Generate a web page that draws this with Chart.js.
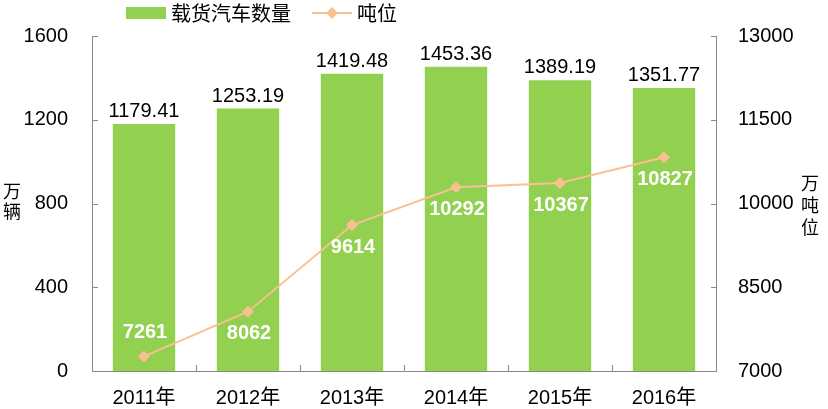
<!DOCTYPE html>
<html>
<head>
<meta charset="utf-8">
<script src="https://cdn.jsdelivr.net/npm/chart.js@4.4.0/dist/chart.umd.min.js"></script>
<style>
  html, body { margin: 0; padding: 0; background: #fff; }
  #wrap { width: 828px; height: 409px; position: relative; }
</style>
</head>
<body>
<div id="wrap"><canvas id="c" width="828" height="409"></canvas></div>
<script>
const categories = ['2011年', '2012年', '2013年', '2014年', '2015年', '2016年'];
const truckCounts = [1179.41, 1253.19, 1419.48, 1453.36, 1389.19, 1351.77];
const tonnage = [7261, 8062, 9614, 10292, 10367, 10827];
const barLabel = '载货汽车数量';
const lineLabel = '吨位';
const leftTitle = ['万', '辆'];
const rightTitle = ['万', '吨', '位'];

const GREEN = '#92D050';
const ORANGE = '#FAC090';
const AXIS = '#898989';
const FONT = '"Liberation Sans", Arial, "Noto Sans CJK SC", sans-serif';
const CJK = '"Noto Sans CJK SC", "Liberation Sans", sans-serif';

const decorPlugin = {
  id: 'decor',
  afterDatasetsDraw(chart) {
    const ctx = chart.ctx;
    const area = chart.chartArea;
    const xs = chart.scales.x, ys = chart.scales.y, ys1 = chart.scales.y1;
    ctx.save();
    // inside tick marks
    ctx.strokeStyle = AXIS;
    ctx.lineWidth = 1;
    ctx.beginPath();
    ys.ticks.forEach(t => {
      const y = Math.round(ys.getPixelForValue(t.value)) + 0.5;
      ctx.moveTo(area.left, y); ctx.lineTo(area.left + 6, y);
    });
    ys1.ticks.forEach(t => {
      const y = Math.round(ys1.getPixelForValue(t.value)) + 0.5;
      ctx.moveTo(area.right, y); ctx.lineTo(area.right - 5, y);
    });
    for (let i = 0; i < categories.length - 1; i++) {
      const x = Math.round((xs.getPixelForValue(i) + xs.getPixelForValue(i + 1)) / 2) + 0.5;
      ctx.moveTo(x, area.bottom); ctx.lineTo(x, area.bottom - 6);
    }
    ctx.stroke();

    // bar value labels
    const barMeta = chart.getDatasetMeta(1);
    ctx.fillStyle = '#000';
    ctx.font = '20px ' + FONT;
    ctx.textAlign = 'center';
    ctx.textBaseline = 'alphabetic';
    barMeta.data.forEach((el, i) => {
      ctx.fillText(truckCounts[i].toFixed(2), el.x, el.y - 7);
    });

    // line value labels
    const lineMeta = chart.getDatasetMeta(0);
    ctx.fillStyle = '#fff';
    ctx.font = 'bold 20px ' + FONT;
    ctx.textBaseline = 'middle';
    lineMeta.data.forEach((el, i) => {
      let y = el.y + 22;
      if (y + 10 > area.bottom) y = el.y - 24;
      ctx.fillText(String(tonnage[i]), el.x + 1, y);
    });
    ctx.restore();
  },
  afterDraw(chart) {
    const ctx = chart.ctx;
    ctx.save();
    // legend
    ctx.fillStyle = GREEN;
    ctx.fillRect(126, 7, 40, 12);
    ctx.fillStyle = '#000';
    ctx.font = '20px ' + CJK;
    ctx.textAlign = 'left';
    ctx.textBaseline = 'middle';
    ctx.fillText(barLabel, 171, 13);
    ctx.strokeStyle = ORANGE;
    ctx.lineWidth = 2;
    ctx.beginPath(); ctx.moveTo(312, 13); ctx.lineTo(352, 13); ctx.stroke();
    ctx.fillStyle = ORANGE;
    ctx.beginPath();
    ctx.moveTo(332, 7); ctx.lineTo(338, 13); ctx.lineTo(332, 19); ctx.lineTo(326, 13); ctx.closePath();
    ctx.fill();
    ctx.fillStyle = '#000';
    ctx.fillText(lineLabel, 357, 13);
    // axis titles
    ctx.font = '18px ' + CJK;
    ctx.textAlign = 'center';
    leftTitle.forEach((ch, i) => ctx.fillText(ch, 12, 191 + i * 20));
    rightTitle.forEach((ch, i) => ctx.fillText(ch, 810, 183 + i * 22));
    ctx.restore();
  }
};

const plain = v => String(v);

new Chart(document.getElementById('c'), {
  data: {
    labels: categories,
    datasets: [
      {
        type: 'line',
        label: lineLabel,
        data: tonnage,
        yAxisID: 'y1',
        borderColor: ORANGE,
        backgroundColor: ORANGE,
        borderWidth: 2,
        pointStyle: 'rectRot',
        pointRadius: 6,
        pointHoverRadius: 6,
        pointBorderWidth: 0,
        tension: 0,
        order: 0
      },
      {
        type: 'bar',
        label: barLabel,
        data: truckCounts,
        yAxisID: 'y',
        backgroundColor: GREEN,
        categoryPercentage: 1,
        barPercentage: 0.6,
        order: 1
      }
    ]
  },
  options: {
    responsive: false,
    animation: false,
    layout: { padding: { top: 36, left: 0, right: 0, bottom: 0 } },
    plugins: { legend: { display: false }, tooltip: { enabled: false } },
    scales: {
      x: {
        offset: true,
        grid: { display: false, drawTicks: false },
        border: { display: true, color: AXIS, width: 1 },
        ticks: { color: '#000', font: { size: 20, family: FONT }, padding: 15, maxRotation: 0 },
        afterFit(s) { s.height = 38; }
      },
      y: {
        position: 'left',
        min: 0, max: 1600,
        grid: { display: false, drawTicks: false },
        border: { display: true, color: AXIS, width: 1 },
        ticks: { stepSize: 400, color: '#000', font: { size: 20, family: FONT }, padding: 24, callback: plain },
        afterFit(s) { s.width = 92; }
      },
      y1: {
        position: 'right',
        min: 7000, max: 13000,
        grid: { display: false, drawTicks: false },
        border: { display: true, color: AXIS, width: 1 },
        ticks: { stepSize: 1500, color: '#000', font: { size: 20, family: FONT }, padding: 22, callback: plain },
        afterFit(s) { s.width = 112; }
      }
    }
  },
  plugins: [decorPlugin]
});
</script>
</body>
</html>
